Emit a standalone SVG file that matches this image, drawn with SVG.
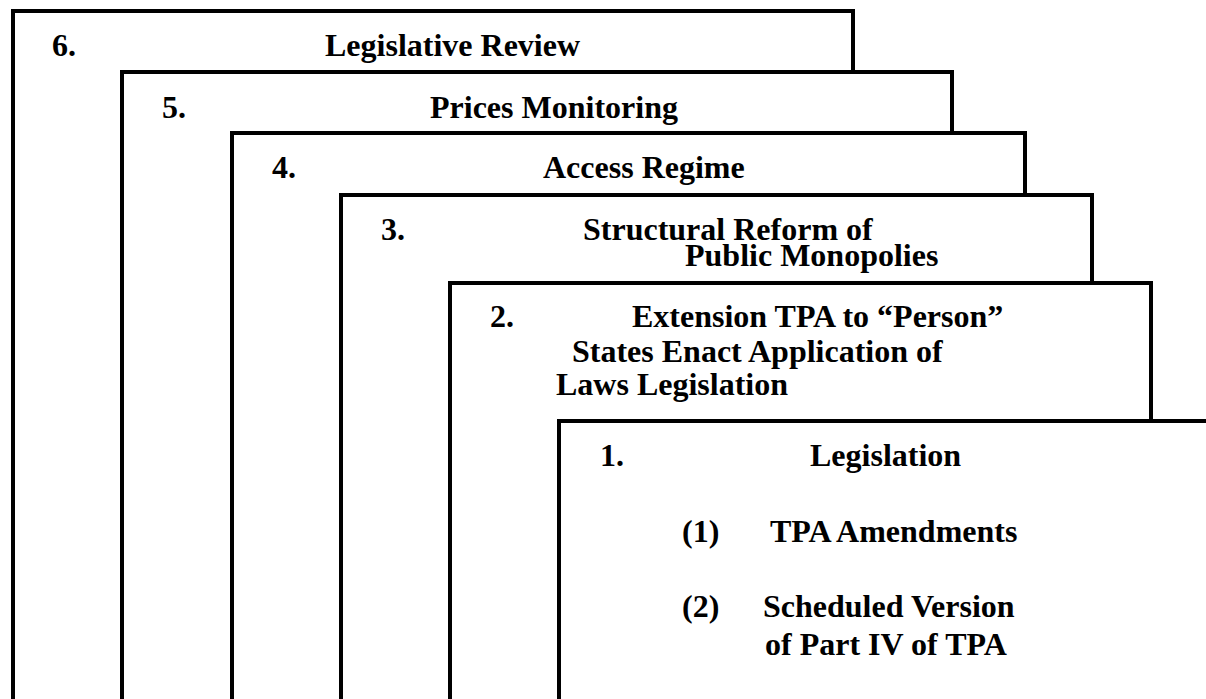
<svg xmlns="http://www.w3.org/2000/svg" width="1206" height="699" viewBox="0 0 1206 699">
  <style>
    .box { fill: #ffffff; stroke: #000000; stroke-width: 4; }
    .t { font-family: "Liberation Serif", "Times New Roman", serif; font-weight: bold; font-size: 32px; fill: #000000; }
  </style>
  <rect width="1206" height="699" fill="#ffffff"/>

  <!-- Stages drawn back to front; each sheet overlaps the previous one -->
  <g id="stage6">
    <rect class="box" x="13" y="11" width="840" height="760"/>
    <text class="t" x="52" y="56">6.</text>
    <text class="t" x="325" y="56">Legislative Review</text>
  </g>

  <g id="stage5">
    <rect class="box" x="122" y="72" width="830" height="700"/>
    <text class="t" x="162" y="118">5.</text>
    <text class="t" x="430" y="118">Prices Monitoring</text>
  </g>

  <g id="stage4">
    <rect class="box" x="232" y="133" width="793" height="640"/>
    <text class="t" x="272" y="178">4.</text>
    <text class="t" x="543" y="178">Access Regime</text>
  </g>

  <g id="stage3">
    <rect class="box" x="341" y="195" width="751" height="580"/>
    <text class="t" x="381" y="240">3.</text>
    <text class="t" x="583" y="240">Structural Reform of</text>
    <text class="t" x="685" y="266">Public Monopolies</text>
  </g>

  <g id="stage2">
    <rect class="box" x="450" y="283" width="701" height="490"/>
    <text class="t" x="490" y="327">2.</text>
    <text class="t" x="632" y="327">Extension TPA to “Person”</text>
    <text class="t" x="572" y="362">States Enact Application of</text>
    <text class="t" x="556" y="395">Laws Legislation</text>
  </g>

  <g id="stage1">
    <rect class="box" x="559" y="421" width="700" height="350"/>
    <text class="t" x="600" y="466">1.</text>
    <text class="t" x="810" y="466">Legislation</text>
    <text class="t" x="682" y="542">(1)</text>
    <text class="t" x="770" y="542">TPA Amendments</text>
    <text class="t" x="682" y="617">(2)</text>
    <text class="t" x="763" y="617">Scheduled Version</text>
    <text class="t" x="765" y="655">of Part IV of TPA</text>
  </g>
</svg>
